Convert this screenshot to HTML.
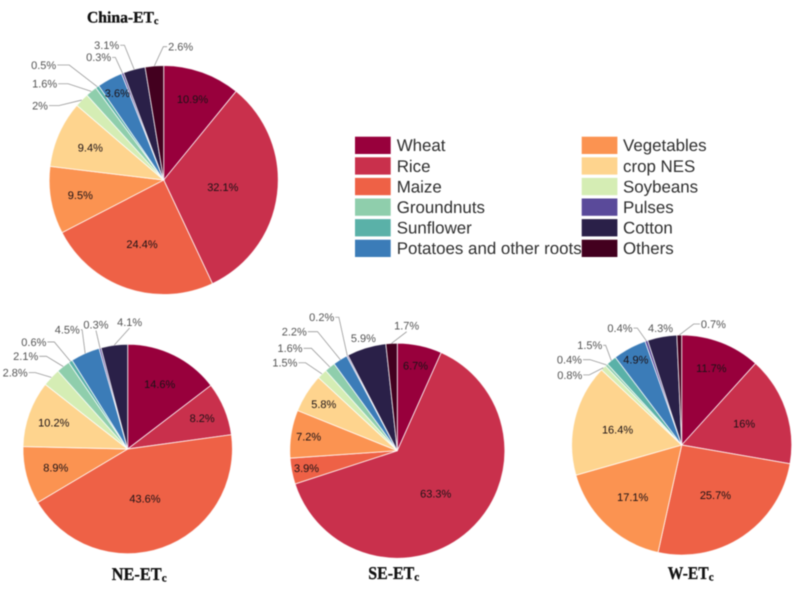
<!DOCTYPE html>
<html lang="en">
<head>
<meta charset="utf-8">
<title>Crop ET composition pies</title>
<style>
html,body{margin:0;padding:0;background:#fff;}
svg{display:block;filter:blur(0.45px);font-family:"Liberation Sans",Arial,sans-serif;text-rendering:geometricPrecision;}
.title{font-family:"Liberation Serif","Times New Roman",serif;font-weight:bold;fill:#111;stroke:#111;stroke-width:.3px;}
.val{font-size:11px;fill:#1c1216;text-anchor:middle;}
.out{font-size:11px;fill:#555;text-anchor:middle;}
.leg{font-size:16.9px;fill:#2e2e2e;}
</style>
</head>
<body>
<svg id="root" xmlns="http://www.w3.org/2000/svg" width="796" height="595" viewBox="0 0 796 595"></svg>
<script>
const categories = ["Wheat","Rice","Maize","Vegetables","crop NES","Soybeans","Groundnuts","Sunflower","Potatoes and other roots","Pulses","Cotton","Others"];
const chinaValues = [10.9,32.1,24.4,9.5,9.4,2,1.6,0.5,3.6,0.3,3.1,2.6];
const neValues = [14.6,8.2,43.6,8.9,10.2,2.8,2.1,0.6,4.5,0.3,4.1,0];
const seValues = [6.7,63.3,3.9,7.2,5.8,1.5,1.6,0,2.2,0.2,5.9,1.7];
const wValues = [11.7,16,25.7,17.1,16.4,0.8,0.4,1.5,4.9,0.4,4.3,0.7];

const sliceColors = {"Wheat":"#98003c","Rice":"#c9304c","Maize":"#ee6146","Vegetables":"#fb9351","crop NES":"#fed48e","Soybeans":"#d5edb4","Groundnuts":"#8fceac","Sunflower":"#5ab1a8","Potatoes and other roots":"#3b7cb8","Pulses":"#5a4a9a","Cotton":"#2a2048","Others":"#43001f"};
const legendLeft = ["Wheat","Rice","Maize","Groundnuts","Sunflower","Potatoes and other roots"];
const legendRight = ["Vegetables","crop NES","Soybeans","Pulses","Cotton","Others"];

/* Layout only: label radius as a fraction of pie radius, or offset from the slice's rim point. */
const chinaLayout = {key:"china",cx:163.7,cy:180,r:114.5,title:"China-ET",tx:87,tb:22.5,tw:67,ts:16,
  inner:{"Wheat":.75,"Rice":.52,"Maize":.59,"Vegetables":.74,"crop NES":.7,"Potatoes and other roots":.86},
  outer:{"Soybeans":[-41.7,5.6],"Groundnuts":[-46.6,-7.6],"Sunflower":[-53.6,-21.7],"Pulses":[-23.9,-15.8],"Cotton":[-27.5,-24.1],"Others":[26.3,-19.2]}};
const neLayout = {key:"ne",cx:127.7,cy:449,r:104.7,title:"NE-ET",tx:111.7,tb:580,tw:50,ts:18,
  inner:{"Wheat":.69,"Rice":.77,"Maize":.5,"Vegetables":.71,"crop NES":.75},
  outer:{"Soybeans":[-36.2,-4.8],"Groundnuts":[-37.5,-10.2],"Sunflower":[-36.6,-19.4],"Potatoes and other roots":[-17.9,-23.6],"Pulses":[-4.1,-23.5],"Cotton":[15.4,-23.2]}};
const seLayout = {key:"se",cx:397.3,cy:450.7,r:107.5,title:"SE-ET",tx:368.3,tb:579,tw:46,ts:18,
  inner:{"Wheat":.81,"Rice":.535,"Maize":.86,"Vegetables":.835,"crop NES":.81,"Cotton":1.095},
  outer:{"Soybeans":[-37.1,-11.2],"Groundnuts":[-39.8,-18.7],"Potatoes and other roots":[-46,-27.9],"Pulses":[-25.6,-38.3],"Others":[15.1,-17.6]}};
const wLayout = {key:"w",cx:681.7,cy:445,r:110,title:"W-ET",tx:667.7,tb:579,tw:41,ts:18,
  inner:{"Wheat":.75,"Rice":.6,"Maize":.55,"Vegetables":.65,"crop NES":.6,"Potatoes and other roots":.88,"Cotton":1.08},
  outer:{"Soybeans":[-33.6,7.1],"Groundnuts":[-36.9,-5.2],"Sunflower":[-21.5,-15.2],"Pulses":[-26.4,-12.7],"Others":[34.1,-11]}};

const NS = "http://www.w3.org/2000/svg";
const root = document.getElementById("root");

function make(tag, attrs, parent){
  const el = document.createElementNS(NS, tag);
  for (const k in attrs) el.setAttribute(k, attrs[k]);
  parent.appendChild(el);
  return el;
}
function slug(s){ return s.toLowerCase().replace(/[^a-z0-9]+/g, "-"); }
function polar(layout, angle, radius){
  return [layout.cx + radius * Math.sin(angle), layout.cy - radius * Math.cos(angle)];
}

function drawPie(values, layout){
  const g = make("g", {}, root);
  
  
  const total = values.reduce((a, b) => a + b, 0);
  let acc = 0;
  const labels = [];
  values.forEach((v, i) => {
    const start = acc / total * 2 * Math.PI;
    acc += v;
    const end = acc / total * 2 * Math.PI;
    if (v <= 0) return;
    const name = categories[i];
    const a = polar(layout, start, layout.r), b = polar(layout, end, layout.r);
    const large = end - start > Math.PI ? 1 : 0;
    const slice = make("path", {
      d: `M${layout.cx} ${layout.cy}L${a[0]} ${a[1]}A${layout.r} ${layout.r} 0 ${large} 1 ${b[0]} ${b[1]}Z`,
      fill: sliceColors[name], stroke: "#fff", "stroke-width": 0.9, "stroke-opacity": 0.8
    }, g);
    
    
    labels.push({name, v, mid: (start + end) / 2});
  });
  labels.forEach(item => {
    const text = item.v + "%";
    const frac = layout.inner[item.name];
    const off = layout.outer[item.name];
    if (frac !== undefined) {
      const p = polar(layout, item.mid, layout.r * frac);
      const t = make("text", {x: p[0], y: p[1] + 3.9, class: frac > 1 ? "out" : "val"}, g);
      t.textContent = text;
      
      
    } else if (off) {
      const anchor = polar(layout, item.mid, layout.r);
      const lx = anchor[0] + off[0], ly = anchor[1] + off[1];
      const t = make("text", {x: lx, y: ly + 3.9, class: "out"}, g);
      t.textContent = text;
      
      
      const half = t.getComputedTextLength() / 2 + 1;
      let pts;
      if (Math.abs(off[0]) < half + 2) {
        pts = [[lx, ly + 6], anchor];
      } else {
        const dir = off[0] < 0 ? 1 : -1;
        const edge = lx + dir * half;
        const elbow = edge + dir * 0.3 * Math.abs(anchor[0] - edge);
        pts = [[edge, ly], [elbow, ly], anchor];
      }
      const line = make("polyline", {
        points: pts.map(q => q.join(",")).join(" "),
        fill: "none", stroke: "#999", "stroke-width": 0.8
      }, g);
      
      
    }
  });
  const title = make("text", {x: layout.tx, y: layout.tb, class: "title", "font-size": layout.ts, textLength: layout.tw, lengthAdjust: "spacingAndGlyphs"}, root);
  title.textContent = layout.title;
  
  
  const sub = make("text", {x: layout.tx + layout.tw, y: layout.tb + 1.5, class: "title", "font-size": layout.ts * 0.62}, root);
  sub.textContent = "c";
  
  
}

function drawLegend(names, swatchX, textX){
  names.forEach((name, i) => {
    const y = 136.7 + i * 20.6;
    const g = make("g", {}, root);
    
    
    const s = make("rect", {x: swatchX, y: y, width: 35.7, height: 17.3, fill: sliceColors[name]}, g);
    
    
    const t = make("text", {x: textX, y: y + 14.5, class: "leg"}, g);
    t.textContent = name;
    
    
  });
}

drawPie(chinaValues, chinaLayout);
drawPie(neValues, neLayout);
drawPie(seValues, seLayout);
drawPie(wValues, wLayout);
drawLegend(legendLeft, 355, 396.7);
drawLegend(legendRight, 581.7, 623);
</script>
</body>
</html>
